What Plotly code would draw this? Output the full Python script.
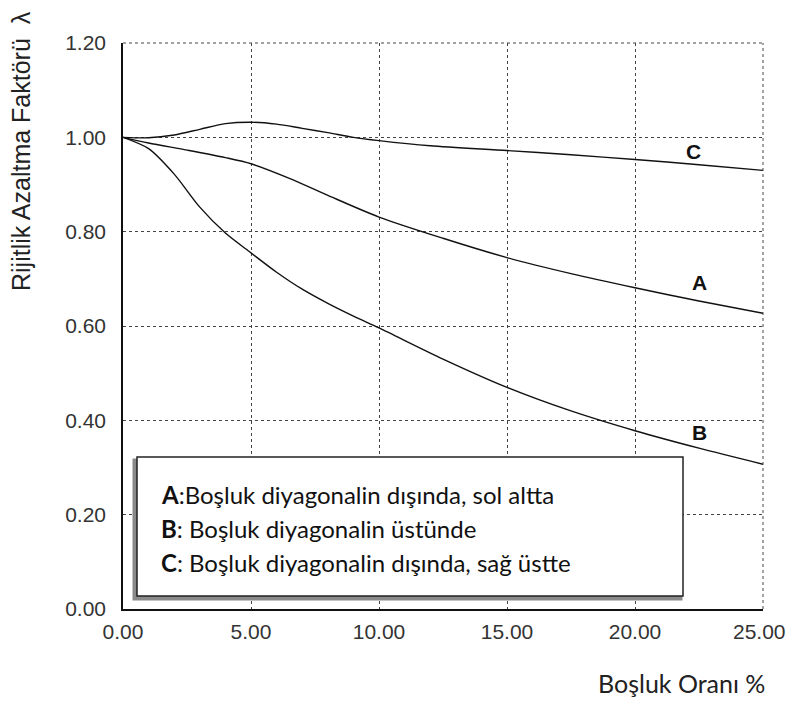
import plotly.graph_objects as go

# Data
xA = [0, 1, 2.5, 4, 5, 6.5, 8, 10, 12.5, 15, 17.5, 20, 22.5, 25]
yA = [1.0, 0.988, 0.973, 0.957, 0.944, 0.913, 0.877, 0.831, 0.786, 0.745, 0.711, 0.681, 0.653, 0.627]

xB = [0, 1, 2, 3, 4, 5, 6, 7, 8, 9, 10, 12.5, 15, 17.5, 20, 22.5, 25]
yB = [1.0, 0.976, 0.922, 0.852, 0.797, 0.755, 0.714, 0.678, 0.648, 0.621, 0.596, 0.530, 0.470, 0.420, 0.378, 0.341, 0.307]

xC = [0, 1, 2, 3, 4, 5, 6, 7, 8, 9, 10, 12, 15, 17.5, 20, 22.5, 25]
yC = [1.0, 0.999, 1.005, 1.017, 1.029, 1.032, 1.028, 1.019, 1.01, 1.0, 0.993, 0.982, 0.972, 0.963, 0.953, 0.942, 0.93]

curve_labels = ["C", "A", "B"]
label_x = [22.3, 22.5, 22.5]
label_y = [0.969, 0.693, 0.375]

x_ticks = [0, 5, 10, 15, 20, 25]
y_ticks = [0.0, 0.2, 0.4, 0.6, 0.8, 1.0, 1.2]

legend_lines = [
    ("A", ":Boşluk diyagonalin dışında, sol altta"),
    ("B", ": Boşluk diyagonalin üstünde"),
    ("C", ": Boşluk diyagonalin dışında, sağ üstte"),
]

TICKFONT = dict(family="Liberation Sans, Arial", size=21, color="#333333")

fig = go.Figure()
for xs, ys in [(xA, yA), (xB, yB), (xC, yC)]:
    fig.add_trace(go.Scatter(x=xs, y=ys, mode="lines",
                             line=dict(color="#111111", width=1.4, shape="spline", smoothing=0.8),
                             showlegend=False, hoverinfo="skip"))

for t, lx, ly in zip(curve_labels, label_x, label_y):
    fig.add_annotation(x=lx, y=ly, text="<b>%s</b>" % t, showarrow=False,
                       font=dict(family="Liberation Sans, Arial", size=21, color="#111111"))

L, R, T, B = 123, 26, 43, 93
W, H = 789, 702
pw, ph = W - L - R, H - T - B

def px(xpix):
    return (xpix - L) / pw

def py(ypix):
    return (H - B - ypix) / ph

# legend box with shadow
fig.add_shape(type="rect", xref="paper", yref="paper",
              x0=px(134), x1=px(681), y0=py(599), y1=py(460),
              line=dict(color="#8a8a8a", width=3), fillcolor="#8a8a8a", layer="above")
fig.add_shape(type="rect", xref="paper", yref="paper",
              x0=px(137), x1=px(683), y0=py(596), y1=py(457),
              line=dict(color="#222222", width=1.5), fillcolor="white", layer="above")

for i, (k, rest) in enumerate(legend_lines):
    fig.add_annotation(xref="paper", yref="paper", x=px(159), y=py(494 + i * 34),
                       xanchor="left", yanchor="middle", showarrow=False,
                       text="<b>%s</b>%s" % (k, rest),
                       font=dict(family="Lato, Open Sans", size=24, color="#111111"))

# axis titles
fig.add_annotation(xref="paper", yref="paper", x=px(21), y=py(151), textangle=-90,
                   xanchor="center", yanchor="middle", showarrow=False,
                   text="Rijitlik Azaltma Faktörü  λ",
                   font=dict(family="Liberation Sans, Arial", size=25, color="#222222"))
fig.add_annotation(xref="paper", yref="paper", x=px(767), y=py(683),
                   xanchor="right", yanchor="middle", showarrow=False,
                   text="Boşluk Oranı %",
                   font=dict(family="Lato, Open Sans", size=25, color="#222222"))

# last x tick label is placed right-aligned so it stays inside the page
x_ticktext = ["%.2f" % v for v in x_ticks]
fig.add_annotation(xref="paper", yref="paper", x=px(788), y=py(631),
                   xanchor="right", yanchor="middle", showarrow=False,
                   text=x_ticktext[-1], font=TICKFONT)
x_ticktext_axis = x_ticktext[:-1] + [""]

fig.update_xaxes(range=[0, 25], tickvals=x_ticks, ticktext=x_ticktext_axis,
                 showgrid=True, gridcolor="#444444", griddash="dot", gridwidth=1,
                 showline=True, linecolor="#111111", linewidth=1.5, zeroline=False,
                 ticks="", ticklabelstandoff=3, tickfont=TICKFONT)
fig.update_yaxes(range=[0, 1.2], tickvals=y_ticks, ticktext=["%.2f" % v for v in y_ticks],
                 showgrid=True, gridcolor="#444444", griddash="dot", gridwidth=1,
                 showline=True, linecolor="#111111", linewidth=1.5, zeroline=False,
                 ticks="", ticklabelstandoff=11, tickfont=TICKFONT)

# dotted top and right borders
fig.add_shape(type="line", xref="paper", yref="paper", x0=0, x1=1, y0=1, y1=1,
              line=dict(color="#444444", width=1, dash="dot"))
fig.add_shape(type="line", xref="paper", yref="paper", x0=1, x1=1, y0=0, y1=1,
              line=dict(color="#444444", width=1, dash="dot"))

fig.update_layout(width=W, height=H, margin=dict(l=L, r=R, t=T, b=B),
                  plot_bgcolor="white", paper_bgcolor="white", autosize=False)

fig.write_html("out.html", config={"responsive": False})
